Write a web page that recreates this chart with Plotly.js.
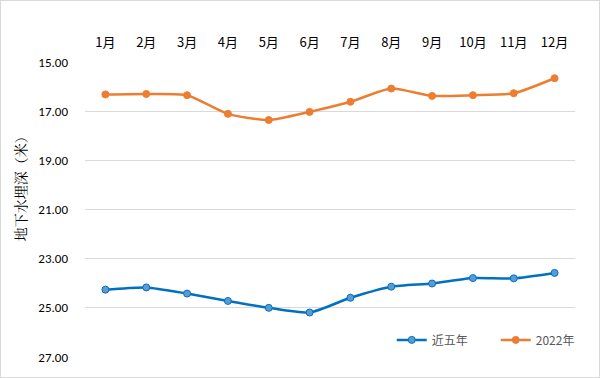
<!DOCTYPE html>
<html>
<head>
<meta charset="utf-8">
<script src="https://cdn.plot.ly/plotly-3.0.1.min.js"></script>
<style>
html,body{margin:0;padding:0;background:#fff;}
#chart{width:598px;height:376px;border:1px solid #d9d9d9;}
</style>
</head>
<body>
<div id="chart"></div>
<script>
const months = ["1月","2月","3月","4月","5月","6月","7月","8月","9月","10月","11月","12月"];
const recentFive = [24.26,24.17,24.42,24.72,25.00,25.19,24.59,24.14,24.01,23.79,23.80,23.58];
const year2022 = [16.32,16.30,16.35,17.11,17.36,17.03,16.62,16.08,16.38,16.35,16.27,15.66];
const yTicks = [15,17,19,21,23,25,27];
const seriesNames = ["近五年","2022年"];

const font = "Calibri, Carlito, 'Liberation Sans', 'Noto Sans CJK SC', sans-serif";

const traces = [
  {
    x: months, y: recentFive, name: seriesNames[0], type: "scatter", mode: "lines+markers",
    line: {color: "#0070c0", width: 2.5, shape: "spline", smoothing: 0.6},
    marker: {color: "#5b9bd5", size: 7, line: {color: "#0070c0", width: 1}}
  },
  {
    x: months, y: year2022, name: seriesNames[1], type: "scatter", mode: "lines+markers",
    line: {color: "#ed7d31", width: 2.5, shape: "spline", smoothing: 0.6},
    marker: {color: "#ed7d31", size: 7, line: {color: "#ed7d31", width: 1}}
  }
];

const layout = {
  width: 598, height: 376,
  margin: {l: 84, r: 24, t: 61, b: 20, autoexpand: false},
  paper_bgcolor: "#fff", plot_bgcolor: "#fff",
  font: {family: font, size: 12, color: "#000"},
  showlegend: true,
  legend: {orientation: "h", x: 0.626, y: 0.058, xanchor: "left", yanchor: "middle",
           entrywidth: 59, entrywidthmode: "pixels",
           font: {family: "'Noto Sans CJK SC', sans-serif", size: 12, color: "#595959"},
           bgcolor: "rgba(0,0,0,0)"},
  xaxis: {
    side: "top", type: "category", range: [-0.5, 11.5], tickangle: 0, automargin: false,
    showgrid: false, zeroline: false, showline: false, ticks: "",
    tickfont: {family: "'Noto Sans CJK SC', sans-serif", size: 13, color: "#000"},
    ticklabelstandoff: 11
  },
  yaxis: {
    range: [27, 15], tickvals: yTicks, ticktext: yTicks.map(v => v.toFixed(2)), automargin: false,
    showgrid: true, gridcolor: "#d9d9d9", gridwidth: 1, zeroline: false, showline: false, ticks: "",
    tickfont: {family: font, size: 13, color: "#000"},
    ticklabelstandoff: 16
  },
  annotations: [{
    text: "地下水埋深（米）", xref: "paper", yref: "paper", x: -0.132, y: 0.583,
    textangle: -90, showarrow: false, xanchor: "center", yanchor: "middle",
    font: {family: "'Noto Serif CJK SC', 'Noto Sans CJK SC', serif", size: 14, color: "#000"}
  }]
};

Plotly.newPlot("chart", traces, layout, {displayModeBar: false, staticPlot: true});
</script>
</body>
</html>
